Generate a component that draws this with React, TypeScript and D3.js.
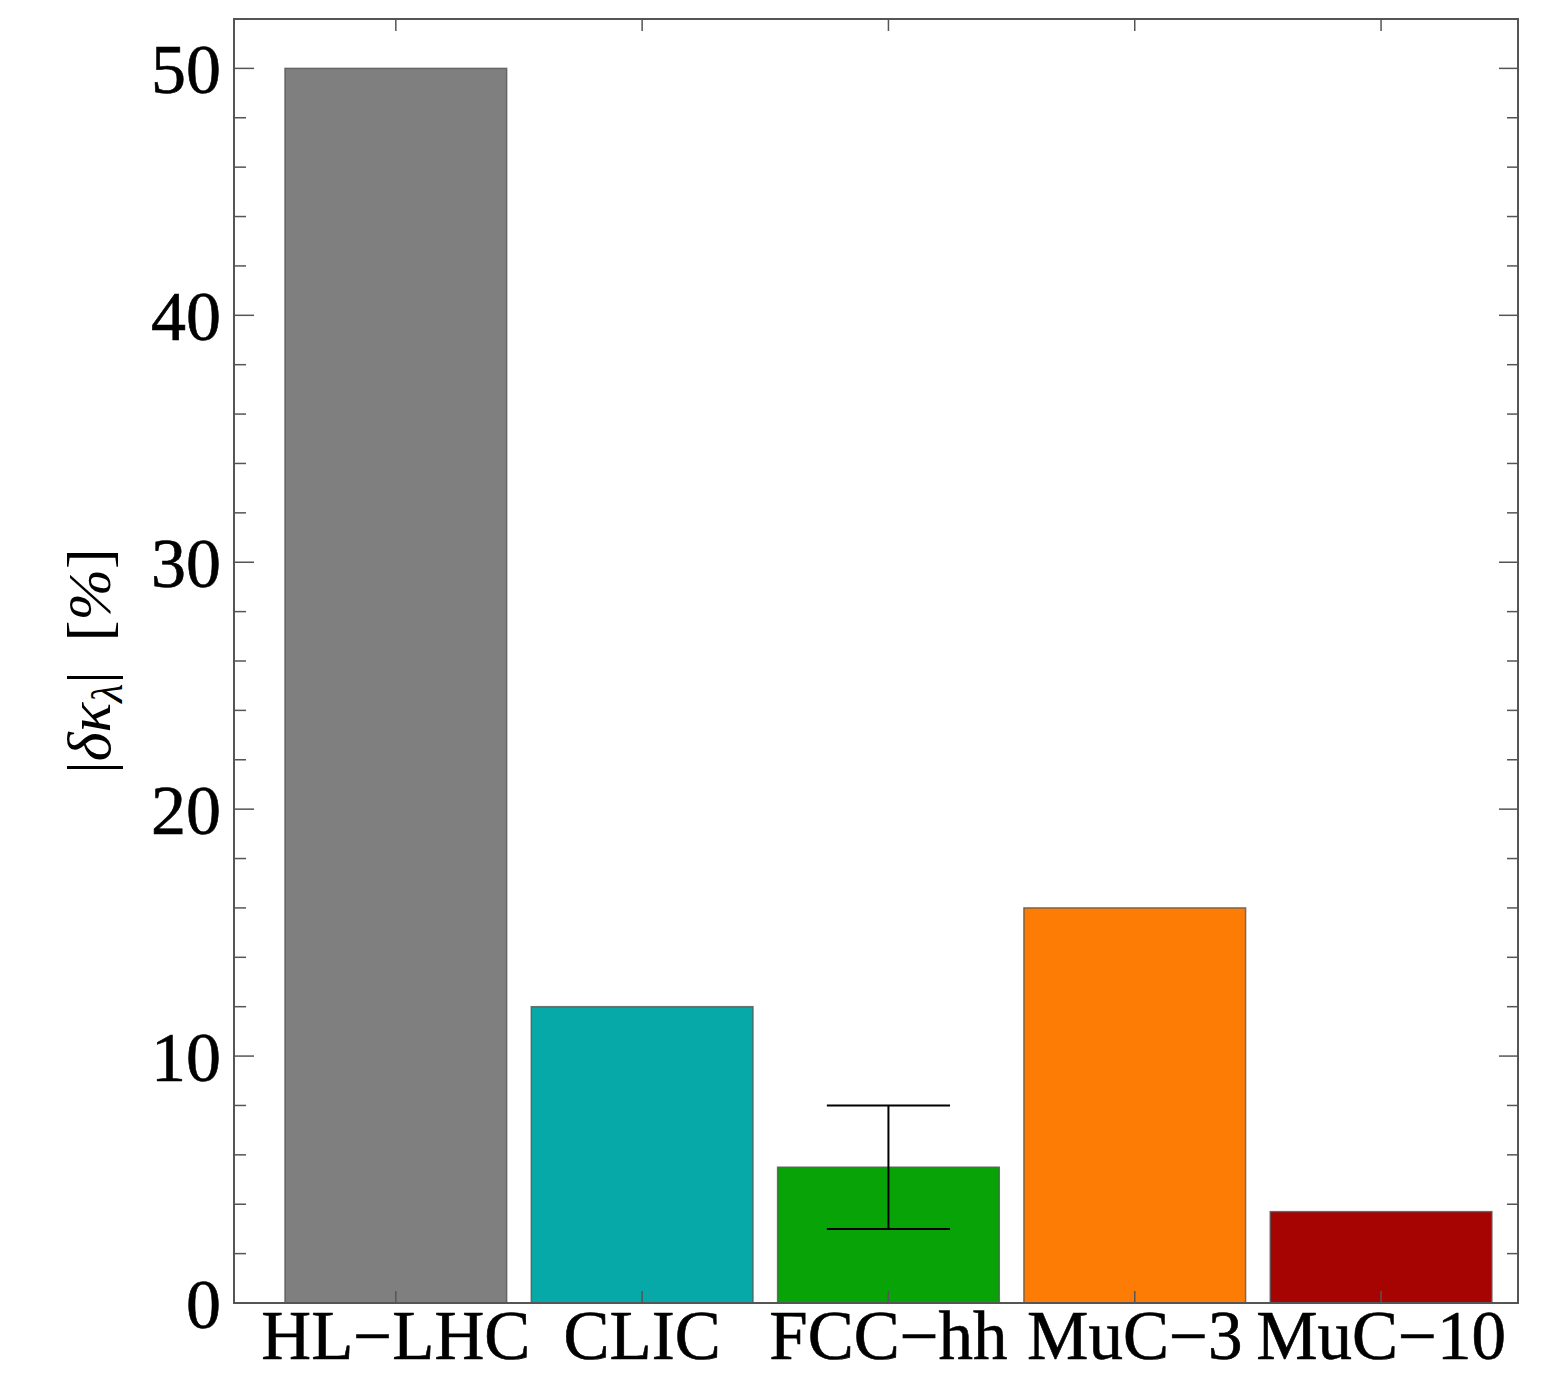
import React from "react";
import * as d3 from "d3";

const categories = ["HL\u2212LHC", "CLIC", "FCC\u2212hh", "MuC\u22123", "MuC\u221210"];
const values = [50, 12, 5.5, 16, 3.7];
const colors = ["#7f7f7f", "#07a8a8", "#07a307", "#fc7c06", "#a60303"];
const errorLow = [null, null, 3, null, null];
const errorHigh = [null, null, 8, null, null];
const yMajorTicks = [0, 10, 20, 30, 40, 50];
const yMinorTicks = [2, 4, 6, 8, 12, 14, 16, 18, 22, 24, 26, 28, 32, 34, 36, 38, 42, 44, 46, 48, 52];

const W = 1551;
const H = 1375;
const L = 234, R = 1518, T = 19, B = 1303;

export default function App() {
  const x = d3.scaleLinear().domain([0.343, 5.556]).range([L, R]);
  const y = d3.scaleLinear().domain([0, 52]).range([B, T]);
  const barW = 0.9;
  const capW = 0.5;
  const tickColor = "#555";
  const font = "'Liberation Serif', 'Times New Roman', serif";

  return (
    <svg width={W} height={H} style={{ position: "absolute", left: 0, top: 0, background: "#fff" }}>
      <rect x={0} y={0} width={W} height={H} fill="#fff" />
      {values.map((v, i) => (
        <rect
          key={"b" + i}
          x={x(i + 1 - barW / 2)}
          y={y(v)}
          width={x(i + 1 + barW / 2) - x(i + 1 - barW / 2)}
          height={y(0) - y(v)}
          fill={colors[i]}
          stroke="#555"
          strokeOpacity={0.8}
          strokeWidth={1.5}
        />
      ))}
      {values.map((v, i) =>
        errorLow[i] != null && errorHigh[i] != null ? (
          <g key={"e" + i} stroke="#000" strokeWidth={2}>
            <line x1={x(i + 1)} x2={x(i + 1)} y1={y(errorLow[i] as number)} y2={y(errorHigh[i] as number)} />
            <line x1={x(i + 1 - capW / 2)} x2={x(i + 1 + capW / 2)} y1={y(errorLow[i] as number)} y2={y(errorLow[i] as number)} />
            <line x1={x(i + 1 - capW / 2)} x2={x(i + 1 + capW / 2)} y1={y(errorHigh[i] as number)} y2={y(errorHigh[i] as number)} />
          </g>
        ) : null
      )}
      <rect x={L} y={T} width={R - L} height={B - T} fill="none" stroke="#555" strokeWidth={2} />
      {yMajorTicks.map((t) => (
        <g key={"ym" + t} stroke={tickColor} strokeWidth={1.5}>
          <line x1={L} x2={L + 20} y1={y(t)} y2={y(t)} />
          <line x1={R} x2={R - 19} y1={y(t)} y2={y(t)} />
        </g>
      ))}
      {yMinorTicks.map((t) => (
        <g key={"yn" + t} stroke={tickColor} strokeWidth={1.5}>
          <line x1={L} x2={L + 12} y1={y(t)} y2={y(t)} />
          <line x1={R} x2={R - 11} y1={y(t)} y2={y(t)} />
        </g>
      ))}
      {categories.map((c, i) => (
        <g key={"xt" + i} stroke={tickColor} strokeWidth={1.5}>
          <line x1={x(i + 1)} x2={x(i + 1)} y1={B} y2={B - 12} />
          <line x1={x(i + 1)} x2={x(i + 1)} y1={T} y2={T + 12} />
        </g>
      ))}
      {yMajorTicks.map((t) => (
        <text
          key={"yl" + t}
          x={221}
          y={y(t)}
          dy="0.35em"
          textAnchor="end"
          fontFamily={font}
          fontSize={70}
          fill="#000"
          stroke="#000"
          strokeWidth={0.6}
        >
          {t}
        </text>
      ))}
      {categories.map((c, i) => (
        <text
          key={"xl" + i}
          x={x(i + 1)}
          y={1359}
          textAnchor="middle"
          fontFamily={font}
          fontSize={69}
          fill="#000"
          stroke="#000"
          strokeWidth={0.6}
        >
          {c}
        </text>
      ))}
      <text
        transform={`translate(110, ${(T + B) / 2}) rotate(-90)`}
        textAnchor="middle"
        fontFamily={font}
        fontSize={62}
        fill="#000"
      >
        <tspan>|</tspan>
        <tspan fontStyle="italic">δκ</tspan>
        <tspan fontStyle="italic" fontSize={44} dy={12}>λ</tspan>
        <tspan dy={-12}>|</tspan>
        <tspan dx={30}>[</tspan>
        <tspan fontStyle="italic">%</tspan>
        <tspan>]</tspan>
      </text>
    </svg>
  );
}
